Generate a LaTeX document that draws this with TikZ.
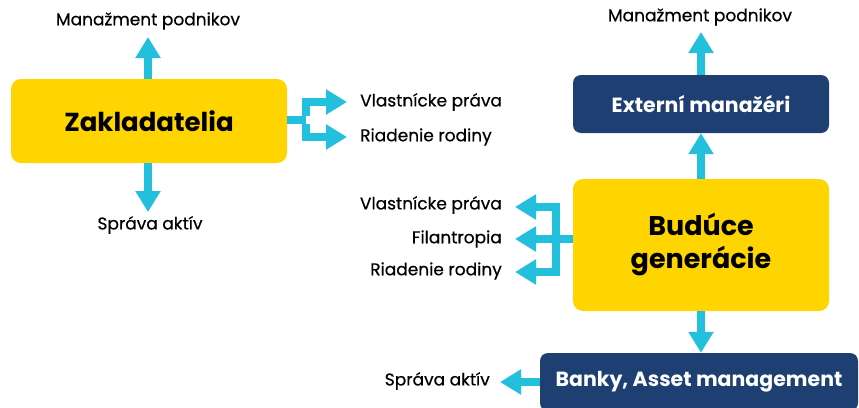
\documentclass[tikz,border=0pt]{standalone}
\usepackage{fontspec}
\setmainfont{Poppins}
\newfontfamily\medfont{Poppins}[FakeBold=0.5]
\usetikzlibrary{arrows.meta}
\definecolor{cy}{HTML}{22C0DC}
\definecolor{yel}{HTML}{FFD500}
\definecolor{navy}{HTML}{1E3F72}
\tikzset{
  arr/.style={draw=cy, line width=8pt, -{Triangle[length=21pt,width=24pt]}},
  br/.style={draw=cy, line width=8pt, miter limit=10},
  ybox/.style={fill=yel, rounded corners=10pt, inner sep=0pt, font=\fontsize{26}{33}\selectfont\bfseries, align=center},
  nbox/.style={fill=navy, rounded corners=8pt, inner sep=0pt, text=white, font=\fontsize{20.5}{24}\selectfont\bfseries},
  lbl/.style={inner sep=0pt, font=\medfont\fontsize{17}{20}\selectfont},
}
\begin{document}
\begin{tikzpicture}[x=1pt,y=-1pt]
\useasboundingbox (0,0) rectangle (859,407);
% Left: Zakladatelia
\node[ybox, minimum width=276, minimum height=84] (z) at (149,121) {Zakladatelia};
\node[lbl] (zmp) at (148,21) {Manažment podnikov};
\node[lbl] (zsa) at (150,225) {Správa aktív};
\coordinate (zt1) at (148,37);
\coordinate (zt2) at (148,212);
\draw[arr] (z.north -| zt1) -- (zt1);
\draw[arr] (z.south -| zt2) -- (zt2);
\node[lbl, anchor=west] (zvp) at (360,102) {Vlastnícke práva};
\node[lbl, anchor=west] (zrr) at (360,137) {Riadenie rodiny};
\coordinate (zs) at (306,120);
\coordinate (zb1) at (306,102);
\coordinate (zb2) at (306,137);
\coordinate (zh1) at (347,102);
\coordinate (zh2) at (347,137);
\draw[br] (z.east |- zs) -- (zs);
\draw[arr] ([yshift=4pt]zs) -- (zb1) -- (zh1);
\draw[arr] ([yshift=-4pt]zs) -- (zb2) -- (zh2);
% Right
\node[ybox, minimum width=256, minimum height=132, font=\fontsize{27}{33}\selectfont\bfseries] (b) at (701,245) {Budúce\\generácie};
\node[nbox, minimum width=256, minimum height=58] (e) at (701,104) {Externí manažéri};
\node[nbox, minimum width=318, minimum height=58] (k) at (699,382) {Banky, Asset management};
\node[lbl] (emp) at (700,17) {Manažment podnikov};
\coordinate (et) at (701,32);
\draw[arr] (e.north -| et) -- (et);
\draw[arr] (b.north -| et) -- (e.south -| et);
\draw[arr] (b.south -| et) -- (k.north -| et);
\node[lbl, anchor=east] (ksa) at (490,381) {Správa aktív};
\coordinate (kt) at (500,382);
\draw[arr] (k.west |- kt) -- (kt);
\node[lbl, anchor=east] (bvp) at (502,205) {Vlastnícke práva};
\node[lbl, anchor=east] (bfi) at (502,239) {Filantropia};
\node[lbl, anchor=east] (brr) at (502,271) {Riadenie rodiny};
\coordinate (bs) at (556,239);
\coordinate (bb1) at (556,207);
\coordinate (bb3) at (556,272);
\coordinate (bh1) at (515,207);
\coordinate (bh2) at (515,239);
\coordinate (bh3) at (515,272);
\draw[br] (b.west |- bs) -- (bs);
\draw[arr] ([yshift=4pt]bs) -- (bb1) -- (bh1);
\draw[arr] ([yshift=-4pt]bs) -- (bb3) -- (bh3);
\draw[arr] (bs) -- (bh2);
\end{tikzpicture}
\end{document}
